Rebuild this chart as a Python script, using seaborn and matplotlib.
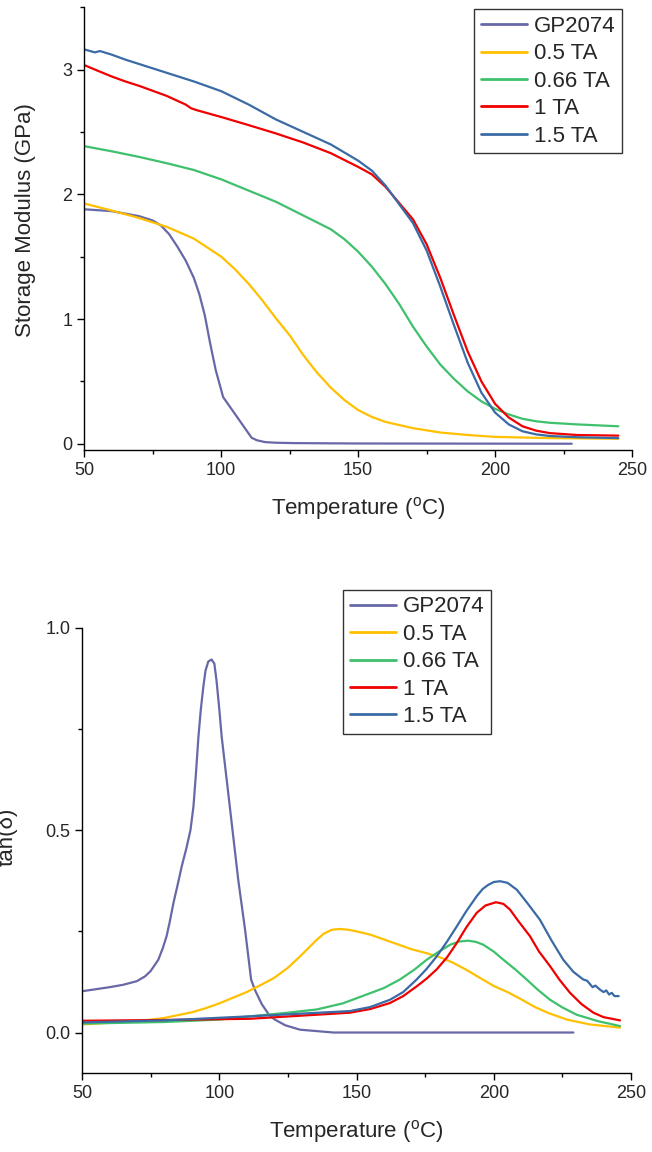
import pandas as pd
import matplotlib
matplotlib.use("Agg")
import matplotlib.pyplot as plt
from matplotlib.ticker import MultipleLocator, FormatStrFormatter
import seaborn as sns

sns.set_theme(style="ticks")
plt.rcParams['font.family'] = ['Liberation Sans', 'DejaVu Sans']
plt.rcParams['mathtext.fontset'] = 'custom'
plt.rcParams['mathtext.rm'] = 'Liberation Sans'

samples = ["GP2074", "0.5 TA", "0.66 TA", "1 TA", "1.5 TA"]
colors = ["#6868A8", "#FFC000", "#3EC06C", "#F00000", "#3A6BA5"]

# storage modulus (GPa) vs temperature
gp_T_E = [50, 60, 70, 75, 78, 81, 84, 87, 90, 92, 94, 96, 98, 100.7, 111.1, 113, 116, 120, 127, 150, 228]
gp_E = [1.88, 1.865, 1.825, 1.79, 1.75, 1.68, 1.58, 1.47, 1.33, 1.2, 1.03, 0.8, 0.59, 0.374, 0.048, 0.028, 0.013, 0.008, 0.005, 0.002, 0.0]
ta05_T_E = [50, 60, 70, 80, 90, 100, 105, 110, 115, 120, 125, 130, 135, 140, 145, 150, 155, 160, 170, 180, 190, 200, 220, 245]
ta05_E = [1.926, 1.87, 1.81, 1.74, 1.645, 1.5, 1.4, 1.283, 1.15, 1.005, 0.87, 0.71, 0.57, 0.45, 0.35, 0.27, 0.215, 0.175, 0.125, 0.09, 0.07, 0.055, 0.045, 0.04]
ta066_T_E = [50, 60, 70, 80, 90, 100, 110, 120, 130, 140, 145, 150, 155, 160, 165, 170, 175, 180, 185, 190, 195, 200, 205, 210, 215, 220, 230, 245]
ta066_E = [2.386, 2.345, 2.3, 2.25, 2.195, 2.12, 2.03, 1.94, 1.83, 1.72, 1.64, 1.54, 1.42, 1.28, 1.12, 0.94, 0.78, 0.635, 0.52, 0.42, 0.34, 0.28, 0.235, 0.2, 0.18, 0.168, 0.155, 0.14]
ta1_T_E = [50, 55, 60, 65, 70, 75, 80, 84, 87, 89, 91, 100, 110, 120, 130, 140, 150, 155, 160, 165, 170, 175, 180, 185, 190, 195, 200, 205, 210, 215, 220, 230, 245]
ta1_E = [3.036, 2.99, 2.945, 2.905, 2.87, 2.83, 2.79, 2.75, 2.72, 2.69, 2.675, 2.62, 2.555, 2.488, 2.415, 2.33, 2.22, 2.16, 2.06, 1.93, 1.8, 1.6, 1.33, 1.03, 0.74, 0.5, 0.32, 0.21, 0.14, 0.105, 0.085, 0.07, 0.065]
ta15_T_E = [50, 53.9, 55.7, 60, 65, 70, 80, 90, 100, 110, 120, 130, 140, 150, 155, 160, 165, 170, 175, 180, 185, 190, 195, 200, 205, 210, 215, 220, 230, 245]
ta15_E = [3.162, 3.138, 3.149, 3.12, 3.08, 3.045, 2.975, 2.905, 2.827, 2.72, 2.6, 2.5, 2.4, 2.27, 2.19, 2.07, 1.92, 1.77, 1.55, 1.26, 0.95, 0.65, 0.41, 0.25, 0.155, 0.1, 0.075, 0.062, 0.052, 0.045]

# tan(delta) vs temperature
gp_T_d = [50, 55, 60, 65, 70, 73, 75, 77.8, 79.5, 80.8, 82, 83.3, 85, 86.3, 88, 89.5, 90.6, 91.5, 92.4, 93.3, 94.2, 95, 96, 97.2, 98.2, 99, 100, 100.9, 103.3, 106.9, 109.4, 111.6, 113, 115.5, 118, 120, 124, 129.4, 141.6, 229]
gp_d = [0.102, 0.107, 0.112, 0.118, 0.127, 0.139, 0.152, 0.18, 0.21, 0.238, 0.275, 0.32, 0.37, 0.41, 0.455, 0.5, 0.559, 0.64, 0.73, 0.8, 0.855, 0.895, 0.917, 0.922, 0.912, 0.87, 0.8, 0.73, 0.59, 0.378, 0.254, 0.131, 0.105, 0.07, 0.045, 0.033, 0.018, 0.007, 0.0, 0.0]
ta05_T_d = [50, 60, 70, 80, 90, 95, 100, 105, 110, 115, 120, 125, 130, 135, 138, 141, 144, 147, 150, 155, 160, 165, 170, 175, 180, 185, 190, 195, 200, 205, 210, 215, 220, 226.6, 235, 246]
ta05_d = [0.02, 0.024, 0.028, 0.036, 0.05, 0.06, 0.072, 0.086, 0.1, 0.117, 0.135, 0.16, 0.192, 0.226, 0.244, 0.254, 0.256, 0.254, 0.25, 0.242, 0.23, 0.218, 0.206, 0.197, 0.187, 0.173, 0.155, 0.135, 0.115, 0.1, 0.082, 0.063, 0.048, 0.032, 0.02, 0.012]
ta066_T_d = [50, 80, 100, 111.2, 125, 135.5, 145, 153.7, 160, 165.8, 171, 175.6, 180, 184.1, 187.5, 190.7, 193.5, 196.2, 200, 203.5, 208, 212, 216, 220.5, 225, 230.2, 238, 246]
ta066_d = [0.022, 0.026, 0.032, 0.04, 0.049, 0.057, 0.072, 0.094, 0.11, 0.131, 0.155, 0.18, 0.2, 0.217, 0.225, 0.227, 0.224, 0.217, 0.2, 0.18, 0.155, 0.131, 0.106, 0.081, 0.062, 0.044, 0.028, 0.016]
ta1_T_d = [50, 80, 111.2, 147.6, 155, 162.2, 167, 171.9, 175.5, 179.2, 183, 186.5, 190, 193.8, 197, 200.8, 203.5, 205.9, 209, 213.2, 216.5, 220.5, 224, 227.8, 232, 236.3, 240, 246]
ta1_d = [0.029, 0.031, 0.034, 0.049, 0.058, 0.073, 0.09, 0.114, 0.133, 0.156, 0.186, 0.221, 0.26, 0.296, 0.314, 0.322, 0.318, 0.304, 0.275, 0.238, 0.2, 0.164, 0.13, 0.098, 0.07, 0.049, 0.038, 0.03]
ta15_T_d = [50, 80, 111.2, 147.6, 155, 162.2, 167, 171.9, 175.5, 179.2, 183, 186.5, 190, 193.8, 196, 198, 200, 202.3, 205, 208.4, 212, 216.8, 221, 225.3, 229, 232.6, 234, 236, 237, 238.7, 240, 241, 242, 243, 244, 245.5]
ta15_d = [0.025, 0.03, 0.04, 0.053, 0.063, 0.081, 0.1, 0.131, 0.157, 0.188, 0.225, 0.262, 0.3, 0.337, 0.355, 0.365, 0.372, 0.374, 0.37, 0.353, 0.322, 0.279, 0.228, 0.18, 0.15, 0.131, 0.128, 0.112, 0.116, 0.106, 0.1, 0.104, 0.094, 0.098, 0.09, 0.09]


def make_df(xs, ys):
    rows = []
    for name, x, y in zip(samples, xs, ys):
        rows.append(pd.DataFrame({"T": x, "v": y, "sample": name}))
    return pd.concat(rows, ignore_index=True)


df_E = make_df([gp_T_E, ta05_T_E, ta066_T_E, ta1_T_E, ta15_T_E],
               [gp_E, ta05_E, ta066_E, ta1_E, ta15_E])
df_d = make_df([gp_T_d, ta05_T_d, ta066_T_d, ta1_T_d, ta15_T_d],
               [gp_d, ta05_d, ta066_d, ta1_d, ta15_d])

fig = plt.figure(figsize=(6.52, 11.52), dpi=100)
ax1 = fig.add_axes([0.1293, 0.6094, 0.840, 0.3843])
ax2 = fig.add_axes([0.1258, 0.0686, 0.842, 0.3863])

xlab = "Temperature ($\\mathregular{^{o}}$C)"

for ax, df in [(ax1, df_E), (ax2, df_d)]:
    sns.lineplot(data=df, x="T", y="v", hue="sample", hue_order=samples,
                 palette=colors, estimator=None, sort=False, linewidth=1.6, ax=ax)
    ax.set_xlim(50, 250)
    ax.xaxis.set_major_locator(MultipleLocator(50))
    ax.xaxis.set_minor_locator(MultipleLocator(25))
    ax.tick_params(which="major", length=5, width=1, labelsize=13, color="black")
    ax.tick_params(which="minor", length=3, width=1, color="black")
    for s in ["left", "bottom"]:
        ax.spines[s].set_linewidth(1)
        ax.spines[s].set_color("black")
    sns.despine(ax=ax)
    ax.set_xlabel(xlab, fontsize=16, labelpad=12)

ax1.set_ylim(-0.05, 3.5)
ax1.yaxis.set_major_locator(MultipleLocator(1))
ax1.yaxis.set_minor_locator(MultipleLocator(0.5))
ax1.set_ylabel("Storage Modulus (GPa)", fontsize=16)
ax1.yaxis.set_label_coords(-0.089, 0.52)

ax2.set_ylim(-0.1, 1.0)
ax2.yaxis.set_major_locator(MultipleLocator(0.5))
ax2.yaxis.set_minor_locator(MultipleLocator(0.25))
ax2.yaxis.set_major_formatter(FormatStrFormatter("%.1f"))
ax2.set_ylabel("tan(δ)", fontsize=16)
ax2.yaxis.set_label_coords(-0.118, 0.53)

for ax, anchor in [(ax1, (0.727, 0.992)), (ax2, (0.526, 0.488))]:
    handles, labels = ax.get_legend_handles_labels()
    leg = ax.legend(handles, labels, loc="upper left", bbox_to_anchor=anchor,
                    bbox_transform=fig.transFigure, fontsize=16, frameon=True,
                    fancybox=False, edgecolor="black", handlelength=2.1,
                    handletextpad=0.3, labelspacing=0.29, borderpad=0.3,
                    borderaxespad=0)
    leg.get_frame().set_linewidth(1)
    for h in leg.get_lines():
        h.set_linewidth(2)

fig.savefig("out.png", dpi=100)
